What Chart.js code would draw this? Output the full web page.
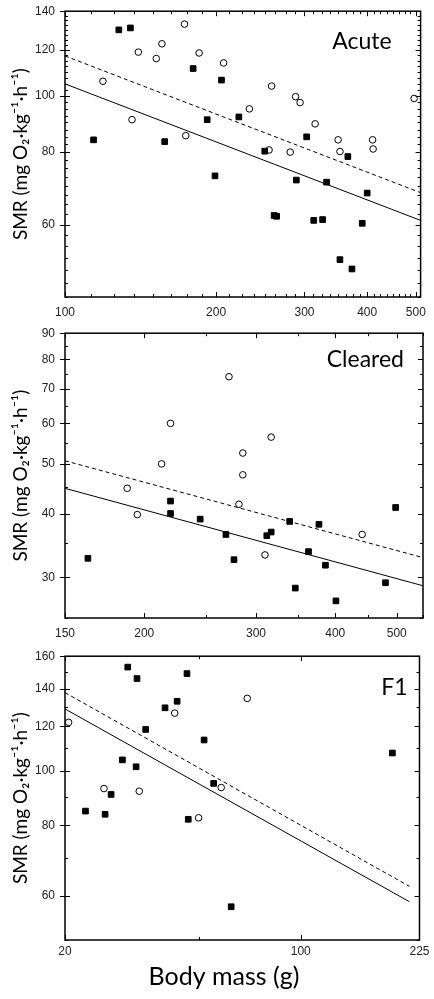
<!DOCTYPE html>
<html>
<head>
<meta charset="utf-8">
<script src="https://cdn.jsdelivr.net/npm/chart.js@4.4.0/dist/chart.umd.min.js"></script>
<style>
html, body { margin: 0; padding: 0; background: #fff; }
#wrap { position: relative; width: 434px; height: 999px; }
canvas { position: absolute; left: 0; }
</style>
</head>
<body>
<div id="wrap">
  <canvas id="c1" width="434" height="322" style="top:0px"></canvas>
  <canvas id="c2" width="434" height="323" style="top:322px"></canvas>
  <canvas id="c3" width="434" height="354" style="top:645px"></canvas>
</div>
<script>
// Acute  [body mass g, SMR]
const acuteFilled = [[114,84],[128,130],[135,131],[158,83.4],[180,111.5],[192,91],[205,106.5],[222,92],
  [250,80.3],[303,85],[366,78.6],[199,72.8],[289,71.6],[332,71],[400,68],[261,62.2],[264,62],
  [313,61],[326,61.2],[391,60.3],[353,52.2],[373,50.3]];
const acuteOpen = [[119,106],[140,119],[136,91],[152,116],[156,123],[173,133],[174,85.4],[185,118.6],
  [207,114],[233,95],[255,80.7],[258,104],[281,80],[288,99.7],[294,97.4],[315,89.5],[350,84],
  [353,80.2],[410,84],[411,81],[496,99]];
const acuteSolid = [[100,104.9],[511,61]];
const acuteDashed = [[100,117.2],[511,68.1]];
const acuteXLabels = [100,200,300,400,500];
const acuteYLabels = [60,80,100,120,140];

// Cleared
const clearedFilled = [[163,32.7],[220,42.3],[220,40],[245,39],[269,36.4],[277,32.5],[312,36.2],[317,36.8],
  [339,38.6],[377,38.1],[363,33.7],[386,31.7],[346,28.6],[401,27],[480,29.3],[498,41.1]];
const clearedOpen = [[272,74],[220,60],[317,56.4],[213,50],[286,52.5],[286,47.6],[188,44.8],[195,39.8],
  [282,41.7],[310,33.2],[441,36.4]];
const clearedSolid = [[150,44.8],[550,28.9]];
const clearedDashed = [[150,50.7],[550,32.8]];
const clearedXLabels = [150,200,300,400,500];
const clearedYLabels = [30,40,50,60,70,80,90];

// F1
const f1Filled = [[30.7,153],[32.7,146],[46,149],[39.6,129.5],[43,133],[34.7,118.5],[51.7,113.5],[29.6,104.6],
  [32.5,101.7],[55.2,95],[27.4,90.8],[23,84.8],[26.3,83.7],[46.4,82],[62.2,57.3],[187,107.6]];
const f1Open = [[20.5,122],[42.3,126.7],[69.4,134.6],[26.1,93],[33.2,92],[58.1,93.4],[49.8,82.5]];
const f1Solid = [[20,128.9],[210,58.5]];
const f1Dashed = [[20,137.8],[210,62.3]];
const f1XLabels = [20,100,225];
const f1YLabels = [60,80,100,120,140,160];

const yTitle = 'SMR (mg O₂·kg⁻¹·h⁻¹)';
const xTitle = 'Body mass (g)';
const tickFont = { family: 'Liberation Sans', size: 12 };

function steps(from, to, step) {
  const out = [];
  for (let v = from; v <= to + 1e-9; v += step) out.push(+v.toFixed(3));
  return out;
}

// frame, inward ticks, panel name and (bottom panel) x title
const frame = {
  id: 'frame',
  afterDraw(chart, args, o) {
    const { ctx, chartArea: a, scales: { x, y } } = chart;
    ctx.save();
    ctx.strokeStyle = '#000';
    ctx.lineWidth = 1;
    ctx.beginPath();
    x.ticks.forEach(t => {
      const px = Math.round(x.getPixelForValue(t.value)) + 0.5;
      const len = t.major ? 5 : 3;
      ctx.moveTo(px, a.bottom); ctx.lineTo(px, a.bottom - len);
      ctx.moveTo(px, a.top); ctx.lineTo(px, a.top + len);
    });
    y.ticks.forEach(t => {
      const py = Math.round(y.getPixelForValue(t.value)) + 0.5;
      const len = t.major ? 5 : 3;
      ctx.moveTo(a.left, py); ctx.lineTo(a.left + len, py);
      ctx.moveTo(a.right, py); ctx.lineTo(a.right - len, py);
      if (t.major) { ctx.moveTo(a.left - 5, py); ctx.lineTo(a.left, py); }
    });
    ctx.stroke();
    ctx.lineWidth = 1.5;
    ctx.strokeRect(a.left, a.top, a.right - a.left, a.bottom - a.top);
    ctx.fillStyle = '#000';
    ctx.font = '23px Lato';
    ctx.textAlign = 'right';
    ctx.textBaseline = 'middle';
    ctx.fillText(o.text, a.right - o.dx, a.top + o.dy);
    if (o.xTitle) {
      ctx.font = '25px Lato';
      ctx.textAlign = 'center';
      ctx.fillText(o.xTitle, 224, a.bottom + 37);
    }
    ctx.restore();
  }
};

function panel(id, d) {
  const datasets = [
    { data: d.filled, pointStyle: 'rect', pointRadius: 4, backgroundColor: '#000', borderColor: '#000', borderWidth: 1, clip: false },
    { data: d.open, pointStyle: 'circle', pointRadius: 3.3, backgroundColor: '#fff', borderColor: '#000', borderWidth: 1, clip: false },
    { data: d.solid, showLine: true, pointRadius: 0, borderColor: '#000', borderWidth: 1 },
    { data: d.dashed, showLine: true, pointRadius: 0, borderColor: '#000', borderWidth: 1, borderDash: [4, 3] }
  ];
  new Chart(document.getElementById(id), {
    type: 'scatter',
    data: { datasets },
    options: {
      responsive: false,
      animation: false,
      events: [],
      layout: { padding: { top: d.top, right: 11, left: 0, bottom: 0 } },
      plugins: {
        legend: { display: false },
        tooltip: { enabled: false },
        frame: { text: d.name, dx: d.nameDx, dy: d.nameDy, xTitle: d.xTitle }
      },
      scales: {
        x: {
          type: 'logarithmic', min: d.xMin, max: d.xMax,
          afterBuildTicks: s => { s.ticks = d.xTicks.map(v => ({ value: v, major: d.xLabels.includes(v) })); },
          afterFit: s => { s.height = d.xh; },
          grid: { display: false, drawTicks: false },
          border: { display: false },
          ticks: { autoSkip: false, maxRotation: 0, padding: d.xPad, font: tickFont, color: '#222',
            callback: v => d.xLabels.includes(v) ? String(v) : '' }
        },
        y: {
          type: 'logarithmic', min: d.yMin, max: d.yMax,
          afterBuildTicks: s => { s.ticks = d.yTicks.map(v => ({ value: v, major: d.yLabels.includes(v) })); },
          afterFit: s => { s.width = 65; },
          grid: { display: false, drawTicks: true, tickLength: 6 },
          border: { display: false },
          ticks: { autoSkip: false, padding: 4, font: tickFont, color: '#222',
            callback: v => d.yLabels.includes(v) ? String(v) : '' },
          title: { display: true, text: yTitle, color: '#000',
            font: { family: 'Lato', size: 19 }, padding: { top: 9, bottom: 0 } }
        }
      }
    },
    plugins: [frame]
  });
}

panel('c1', {
  filled: acuteFilled, open: acuteOpen, solid: acuteSolid, dashed: acuteDashed,
  xMin: 100, xMax: 511, yMin: 45, yMax: 140,
  xLabels: acuteXLabels, yLabels: acuteYLabels,
  xTicks: steps(100, 500, 12.5), yTicks: steps(45, 140, 2.5),
  top: 9, xh: 25, xPad: 8, name: 'Acute', nameDx: 29, nameDy: 30
});
panel('c2', {
  filled: clearedFilled, open: clearedOpen, solid: clearedSolid, dashed: clearedDashed,
  xMin: 150, xMax: 550, yMin: 25, yMax: 90,
  xLabels: clearedXLabels, yLabels: clearedYLabels,
  xTicks: steps(150, 550, 50), yTicks: steps(25, 90, 5),
  top: 8, xh: 27, xPad: 8.5, name: 'Cleared', nameDx: 19, nameDy: 26
});
panel('c3', {
  filled: f1Filled, open: f1Open, solid: f1Solid, dashed: f1Dashed,
  xMin: 20, xMax: 225, yMin: 50, yMax: 160,
  xLabels: f1XLabels, yLabels: f1YLabels,
  xTicks: [20, 50, 100, 225], yTicks: steps(50, 160, 10),
  top: 7, xh: 59, xPad: 4.5, name: 'F1', nameDx: 12, nameDy: 31,
  xTitle: xTitle
});
</script>
</body>
</html>
